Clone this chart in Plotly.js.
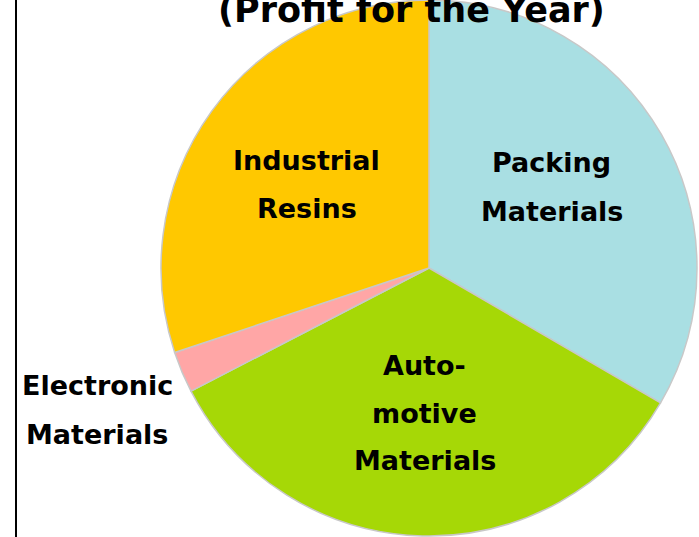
<!DOCTYPE html>
<html>
<head>
<meta charset="utf-8">
<script src="https://cdn.plot.ly/plotly-3.0.1.min.js"></script>
<style>html,body{margin:0;padding:0;background:#fff;}#chart{width:699px;height:537px;}</style>
</head>
<body>
<div id="chart"></div>
<script>
// Data (shares of profit for the year, %), clockwise from 12 o'clock
const categories = ["Packing Materials", "Automotive Materials", "Electronic Materials", "Industrial Resins"];
const profitShare = [33.4, 34.0, 2.5, 30.1];
const labelLines = [["Packing", "Materials"], ["Auto-", "motive", "Materials"], ["Electronic", "Materials"], ["Industrial", "Resins"]];
const titleText = "(Profit for the Year)";

// Styling
const sliceColors = ["#A9DFE3", "#A6D806", "#FFA6A6", "#FFC800"];
const labelFont = {family: "DejaVu Sans, Verdana, sans-serif", size: 27, color: "#000"};
// label line centers in pixels (layout only)
const labelPos = [
  [[551, 163], [552, 211]],
  [[424, 365], [424, 413], [425, 460]],
  [[97, 385], [97, 434]],
  [[306, 160], [307, 208]]
];

const W = 699, H = 537;
const annotations = [];
labelLines.forEach((lines, i) => {
  lines.forEach((t, j) => {
    annotations.push({
      text: "<b>" + t + "</b>", showarrow: false,
      xref: "paper", yref: "paper",
      x: labelPos[i][j][0] / W, y: 1 - labelPos[i][j][1] / H,
      xanchor: "center", yanchor: "middle",
      font: labelFont
    });
  });
});
annotations.push({
  text: "<b>" + titleText + "</b>", showarrow: false,
  xref: "paper", yref: "paper", x: 411 / W, y: 1 - 10 / H,
  xanchor: "center", yanchor: "middle",
  font: {family: "DejaVu Sans, Verdana, sans-serif", size: 35, color: "#000"}
});

const trace = {
  type: "pie",
  labels: categories,
  values: profitShare,
  sort: false,
  direction: "clockwise",
  rotation: 0,
  textinfo: "none",
  hoverinfo: "label+percent",
  marker: {colors: sliceColors, line: {color: "#C8C8C8", width: 1.5}},
  domain: {x: [161 / W, 697 / W], y: [1 / H, 1]},
  showlegend: false
};

const layout = {
  width: W, height: H,
  margin: {l: 0, r: 0, t: 0, b: 0},
  paper_bgcolor: "#fff",
  showlegend: false,
  annotations: annotations,
  shapes: [{type: "line", xref: "paper", yref: "paper", x0: 16 / W, x1: 16 / W, y0: 0, y1: 1,
            line: {color: "#000", width: 2}}]
};

Plotly.newPlot("chart", [trace], layout, {displayModeBar: false, staticPlot: true});
</script>
</body>
</html>
